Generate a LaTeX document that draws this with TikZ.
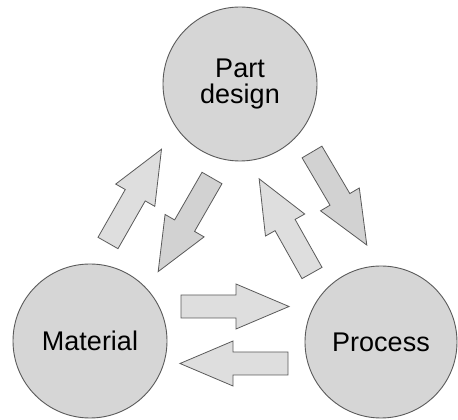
\documentclass[tikz,border=0pt]{standalone}
\usepackage{fontspec}
\setmainfont{Liberation Sans}
\definecolor{circfill}{HTML}{D6D6D6}
\definecolor{arrfill}{HTML}{DEDEDE}
\definecolor{arrfilldark}{HTML}{D2D2D2}
\definecolor{edgegray}{HTML}{5A5A5A}
\begin{document}
\begin{tikzpicture}[x=1pt,y=1pt,
  topic/.style={circle, draw=edgegray, line width=0.9pt, fill=circfill, minimum size=154pt, inner sep=0pt, align=center, font=\fontsize{27}{26}\selectfont, text=black},
  blockarr/.style={draw=edgegray, line width=0.8pt, line join=miter}]
\useasboundingbox (0,0) rectangle (458,420);
\node[topic] (part) at (240,336) {Part\\design};
\node[topic] (mat) at (90,79) {Material};
\node[topic, minimum size=152pt] (proc) at (381,78) {Process};
\foreach \x/\y/\a/\c in {108/177/60.3/arrfill, 212/242/240.1/arrfilldark, 312/147/119.3/arrfill, 312/268/-59.5/arrfilldark, 181/113.5/0/arrfill, 288/56.5/180/arrfill}{
  \draw[blockarr, fill=\c, shift={(\x,\y)}, rotate=\a]
    (0,-11.5) -- (55,-11.5) -- (55,-22.5) -- (108,0) -- (55,22.5) -- (55,11.5) -- (0,11.5) -- cycle;
}
\end{tikzpicture}
\end{document}
